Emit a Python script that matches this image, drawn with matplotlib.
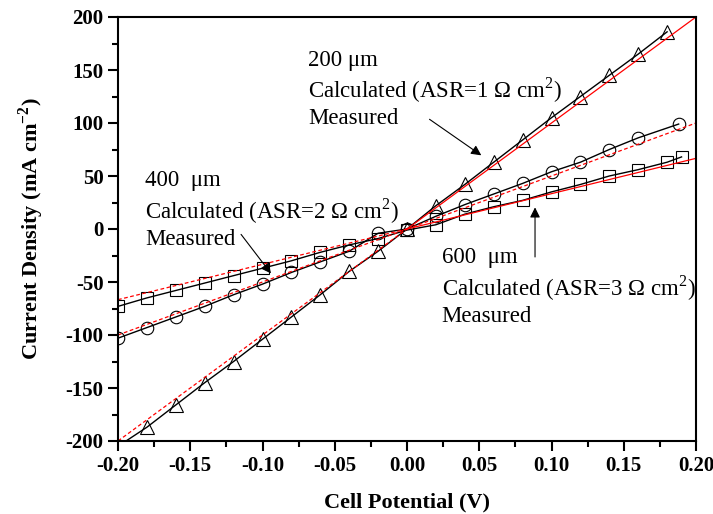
import numpy as np
import matplotlib
matplotlib.use('Agg')
import matplotlib.pyplot as plt
from matplotlib.ticker import MultipleLocator

plt.rcParams['font.family'] = ['Liberation Serif', 'DejaVu Serif']
plt.rcParams['mathtext.fontset'] = 'custom'
plt.rcParams['mathtext.rm'] = 'Liberation Serif'
plt.rcParams['mathtext.bf'] = 'Liberation Serif:bold'
plt.rcParams['axes.unicode_minus'] = False

V_200 = [-0.20, -0.18, -0.16, -0.14, -0.12, -0.10, -0.08, -0.06, -0.04, -0.02, 0.0,
         0.02, 0.04, 0.06, 0.08, 0.10, 0.12, 0.14, 0.16, 0.18]
I_200 = [-205, -187, -166, -145, -125, -104, -83, -62, -40, -21, 0,
         22, 42, 63, 84, 105, 125, 145, 165, 186]

V_400 = [-0.20, -0.18, -0.16, -0.14, -0.12, -0.10, -0.08, -0.06, -0.04, -0.02, 0.0,
         0.02, 0.04, 0.06, 0.08, 0.10, 0.12, 0.14, 0.16, 0.188]
I_400 = [-103, -93, -83, -73, -62, -52, -41, -31, -21, -4, 0,
         12, 23, 33, 43, 54, 63, 75, 86, 99]

V_600 = [-0.20, -0.18, -0.16, -0.14, -0.12, -0.10, -0.08, -0.06, -0.04, -0.02, 0.0,
         0.02, 0.04, 0.06, 0.08, 0.10, 0.12, 0.14, 0.16, 0.18, 0.19]
I_600 = [-73, -65, -58, -51, -44, -37, -30, -22, -15, -9, -1,
         4, 14, 21, 27, 35, 42, 50, 56, 63, 68]

# Calculado: I = V / ASR
asr = [1, 2, 3]
V_calc_neg = np.array([-0.20, 0.0])
V_calc_pos = np.array([0.0, 0.20])

fig = plt.figure(figsize=(7.13, 5.14), dpi=100)
ax = fig.add_axes([118/713, 73/514, 578/713, 424/514])

mk = dict(color='black', lw=1.0, markerfacecolor='none',
          markeredgecolor='black', markeredgewidth=0.8)
ax.plot(V_200, I_200, marker='^', markersize=10, **mk)
ax.plot(V_400, I_400, marker='o', markersize=9, **mk)
ax.plot(V_600, I_600, marker='s', markersize=8.5, **mk)

pos_dashed = [False, True, False]
for r, dashed in zip(asr, pos_dashed):
    ax.plot(V_calc_neg, V_calc_neg * 1000 / r, color='red', lw=0.9, linestyle=(0, (3, 2)))
    ax.plot(V_calc_pos, V_calc_pos * 1000 / r, color='red', lw=0.9,
            linestyle=(0, (3, 2)) if dashed else '-')

ax.set_xlim(-0.20, 0.20)
ax.set_ylim(-200, 200)
ax.xaxis.set_major_locator(MultipleLocator(0.05))
ax.xaxis.set_minor_locator(MultipleLocator(0.025))
ax.yaxis.set_major_locator(MultipleLocator(50))
ax.yaxis.set_minor_locator(MultipleLocator(25))
ax.xaxis.set_major_formatter(plt.FuncFormatter(lambda v, p: f'{v:.2f}'))
ax.tick_params(which='both', direction='out', top=False, right=False, width=1.5)
ax.tick_params(which='major', length=7, labelsize=15)
ax.tick_params(which='minor', length=4)
for lab in ax.get_xticklabels() + ax.get_yticklabels():
    lab.set_fontweight('bold')
for s in ax.spines.values():
    s.set_linewidth(1.5)

ax.set_xlabel('Cell Potential (V)', fontsize=16, fontweight='bold', labelpad=12)
ax.set_ylabel('Current Density (mA cm$^{\\mathbf{-2}}$)', fontsize=16, fontweight='bold', labelpad=14)

fs = 16.5
arrow = dict(arrowstyle='-|>', color='black', lw=0.8, mutation_scale=15)

ax.text(-0.0685, 159, '200 μm', fontsize=fs, va='center')
ax.text(-0.0685, 131, 'Calculated (ASR=1 Ω cm$^2$)', fontsize=fs, va='center')
ax.text(-0.0685, 104, 'Measured', fontsize=fs, va='center')
ax.annotate('', xy=(0.053, 68), xytext=(0.014, 105), arrowprops=arrow)

ax.text(-0.181, 46, '400  μm', fontsize=fs, va='center')
ax.text(-0.181, 17, 'Calculated (ASR=2 Ω cm$^2$)', fontsize=fs, va='center')
ax.text(-0.181, -10, 'Measured', fontsize=fs, va='center')
ax.annotate('', xy=(-0.093, -44), xytext=(-0.116, -3), arrowprops=arrow)

ax.text(0.024, -27, '600  μm', fontsize=fs, va='center')
ax.text(0.024, -56, 'Calculated (ASR=3 Ω cm$^2$)', fontsize=fs, va='center')
ax.text(0.024, -83, 'Measured', fontsize=fs, va='center')
ax.annotate('', xy=(0.0886, 23), xytext=(0.0886, -29), arrowprops=arrow)

fig.savefig('out.png', dpi=100)
